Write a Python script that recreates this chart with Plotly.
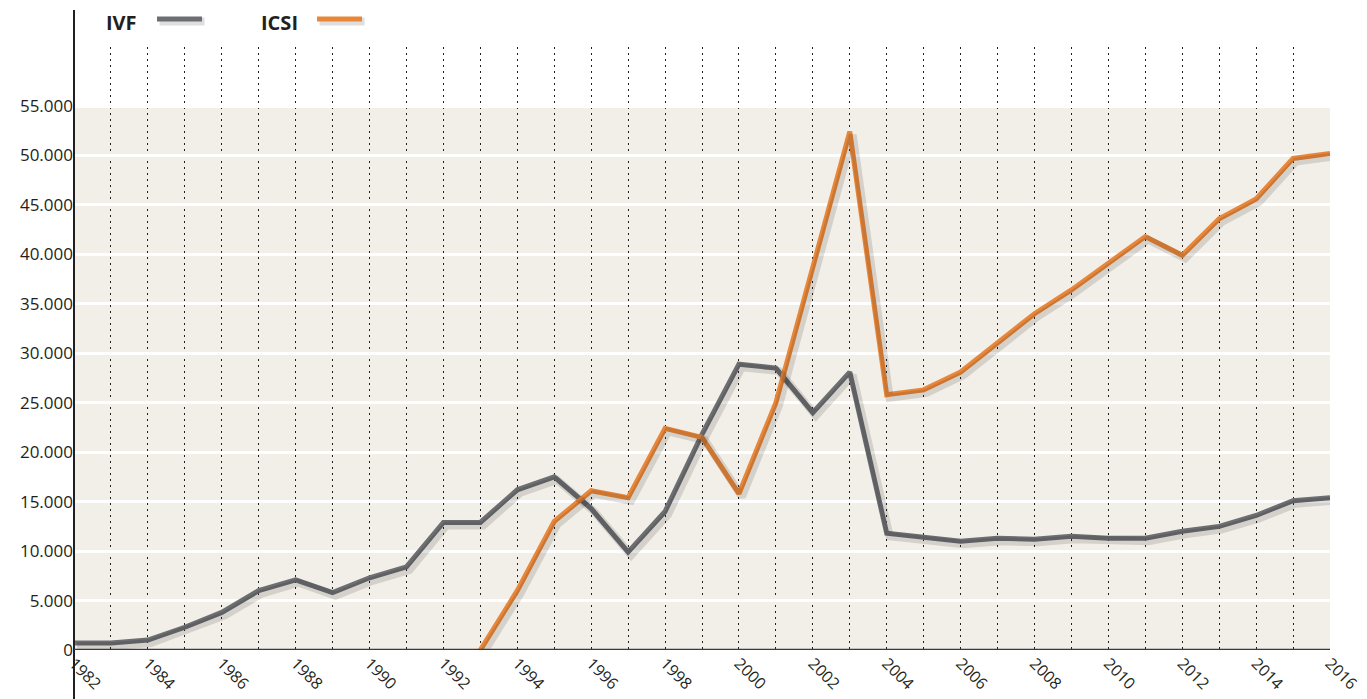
import plotly.graph_objects as go

years = list(range(1982, 2017))
ivf = [700, 700, 1000, 2300, 3800, 6000, 7100, 5800, 7300, 8400, 12900, 12900, 16200, 17500,
       14300, 9900, 14000, 21800, 28900, 28500, 24000, 28100, 11800, 11400, 11000, 11300,
       11200, 11500, 11300, 11300, 12000, 12500, 13600, 15100, 15400]
icsi_years = list(range(1993, 2017))
icsi = [0, 6000, 13000, 16100, 15400, 22400, 21500, 15800, 25000, 38900, 52400, 25800, 26300,
        28100, 31100, 34000, 36400, 39100, 41800, 39900, 43600, 45600, 49700, 50200]
y_ticks = list(range(0, 55001, 5000))
x_labels = [str(y) if (y - 1982) % 2 == 0 else "" for y in years]

GRAY = "#6d6e71"
ORANGE = "#e8873a"
BEIGE = "#f2eee8"
FONT = "Open Sans"

OFF = 8  # page body margin
W, H = 1367 - OFF, 699 - OFF
L, T = 74 - OFF, 47 - OFF
R = W - (1330 - OFF)
B = H - (650 - OFF)
plot_w = W - L - R
plot_h = H - T - B
ymax = plot_h / 544 * 55000
xr = [1982, 2016]
px_x = (xr[1] - xr[0]) / plot_w
px_y = ymax / plot_h

fig = go.Figure()

# shadows (same data, drawn on offset axes)
for xs, ys in [(years, ivf), (icsi_years, icsi)]:
    fig.add_trace(go.Scatter(x=xs, y=ys, mode="lines", xaxis="x2", yaxis="y2",
                             line=dict(color="rgba(0,0,0,0.12)", width=8),
                             hoverinfo="skip", showlegend=False))

fig.add_trace(go.Scatter(x=years, y=ivf, mode="lines", name="IVF",
                         line=dict(color=GRAY, width=5), showlegend=False))
fig.add_trace(go.Scatter(x=icsi_years, y=icsi, mode="lines", name="ICSI",
                         line=dict(color=ORANGE, width=5), showlegend=False))

shapes = [
    dict(type="rect", xref="paper", yref="y", x0=0, x1=1, y0=0, y1=55000,
         fillcolor=BEIGE, line_width=0, layer="below"),
    dict(type="line", xref="paper", yref="paper", x0=0, x1=0,
         y0=-B / plot_h, y1=1 + (T - 2) / plot_h, line=dict(color="#231f20", width=2)),
    dict(type="line", xref="paper", yref="y", x0=0, x1=1, y0=0, y1=0,
         line=dict(color="#3a3a3c", width=2.5)),
]

# legend (pixel positions in page coordinates)
annotations = []
leg = [("IVF", GRAY, 105, 157, 202), ("ICSI", ORANGE, 260, 317, 362)]
for name, col, tx, lx0, lx1 in leg:
    annotations.append(dict(text="<b>" + name + "</b>", xref="paper", yref="paper",
                            x=(tx - 74) / plot_w, y=1 + (47 - 22) / plot_h,
                            xanchor="left", yanchor="middle", showarrow=False,
                            borderpad=0,
                            font=dict(family=FONT, size=20, color="#231f20")))
    for dy, c, w in [(2.5, "rgba(0,0,0,0.13)", 8), (0, col, 5)]:
        shapes.append(dict(type="line", xref="paper", yref="paper",
                           x0=(lx0 - 74 + dy) / plot_w, x1=(lx1 - 74 + dy) / plot_w,
                           y0=1 + (47 - 19 - dy) / plot_h, y1=1 + (47 - 19 - dy) / plot_h,
                           line=dict(color=c, width=w)))

fig.update_layout(
    width=W, height=H,
    margin=dict(l=L, r=R, t=T, b=B, autoexpand=False),
    paper_bgcolor="white", plot_bgcolor="white",
    separators=",.",
    font=dict(family=FONT, size=16, color="#231f20"),
    shapes=shapes, annotations=annotations, showlegend=False,
    xaxis=dict(range=xr, tickvals=years, ticktext=x_labels, tickangle=45,
               showgrid=True, gridcolor="#231f20", gridwidth=1.4, griddash="1.5px,4.5px",
               zeroline=False, showline=False, ticks="", tickfont=dict(size=16),
               automargin=False),
    yaxis=dict(range=[0, ymax], tickvals=y_ticks, tickformat=",d",
               showgrid=True, gridcolor="white", gridwidth=2.5,
               zeroline=False, showline=False, ticks="", ticklen=0,
               tickfont=dict(size=17), automargin=False),
    xaxis2=dict(range=[xr[0] - 3 * px_x, xr[1] - 3 * px_x], overlaying="x",
                visible=False, showgrid=False),
    yaxis2=dict(range=[3 * px_y, ymax + 3 * px_y], overlaying="y",
                visible=False, showgrid=False),
)

fig.write_html("out.html")
